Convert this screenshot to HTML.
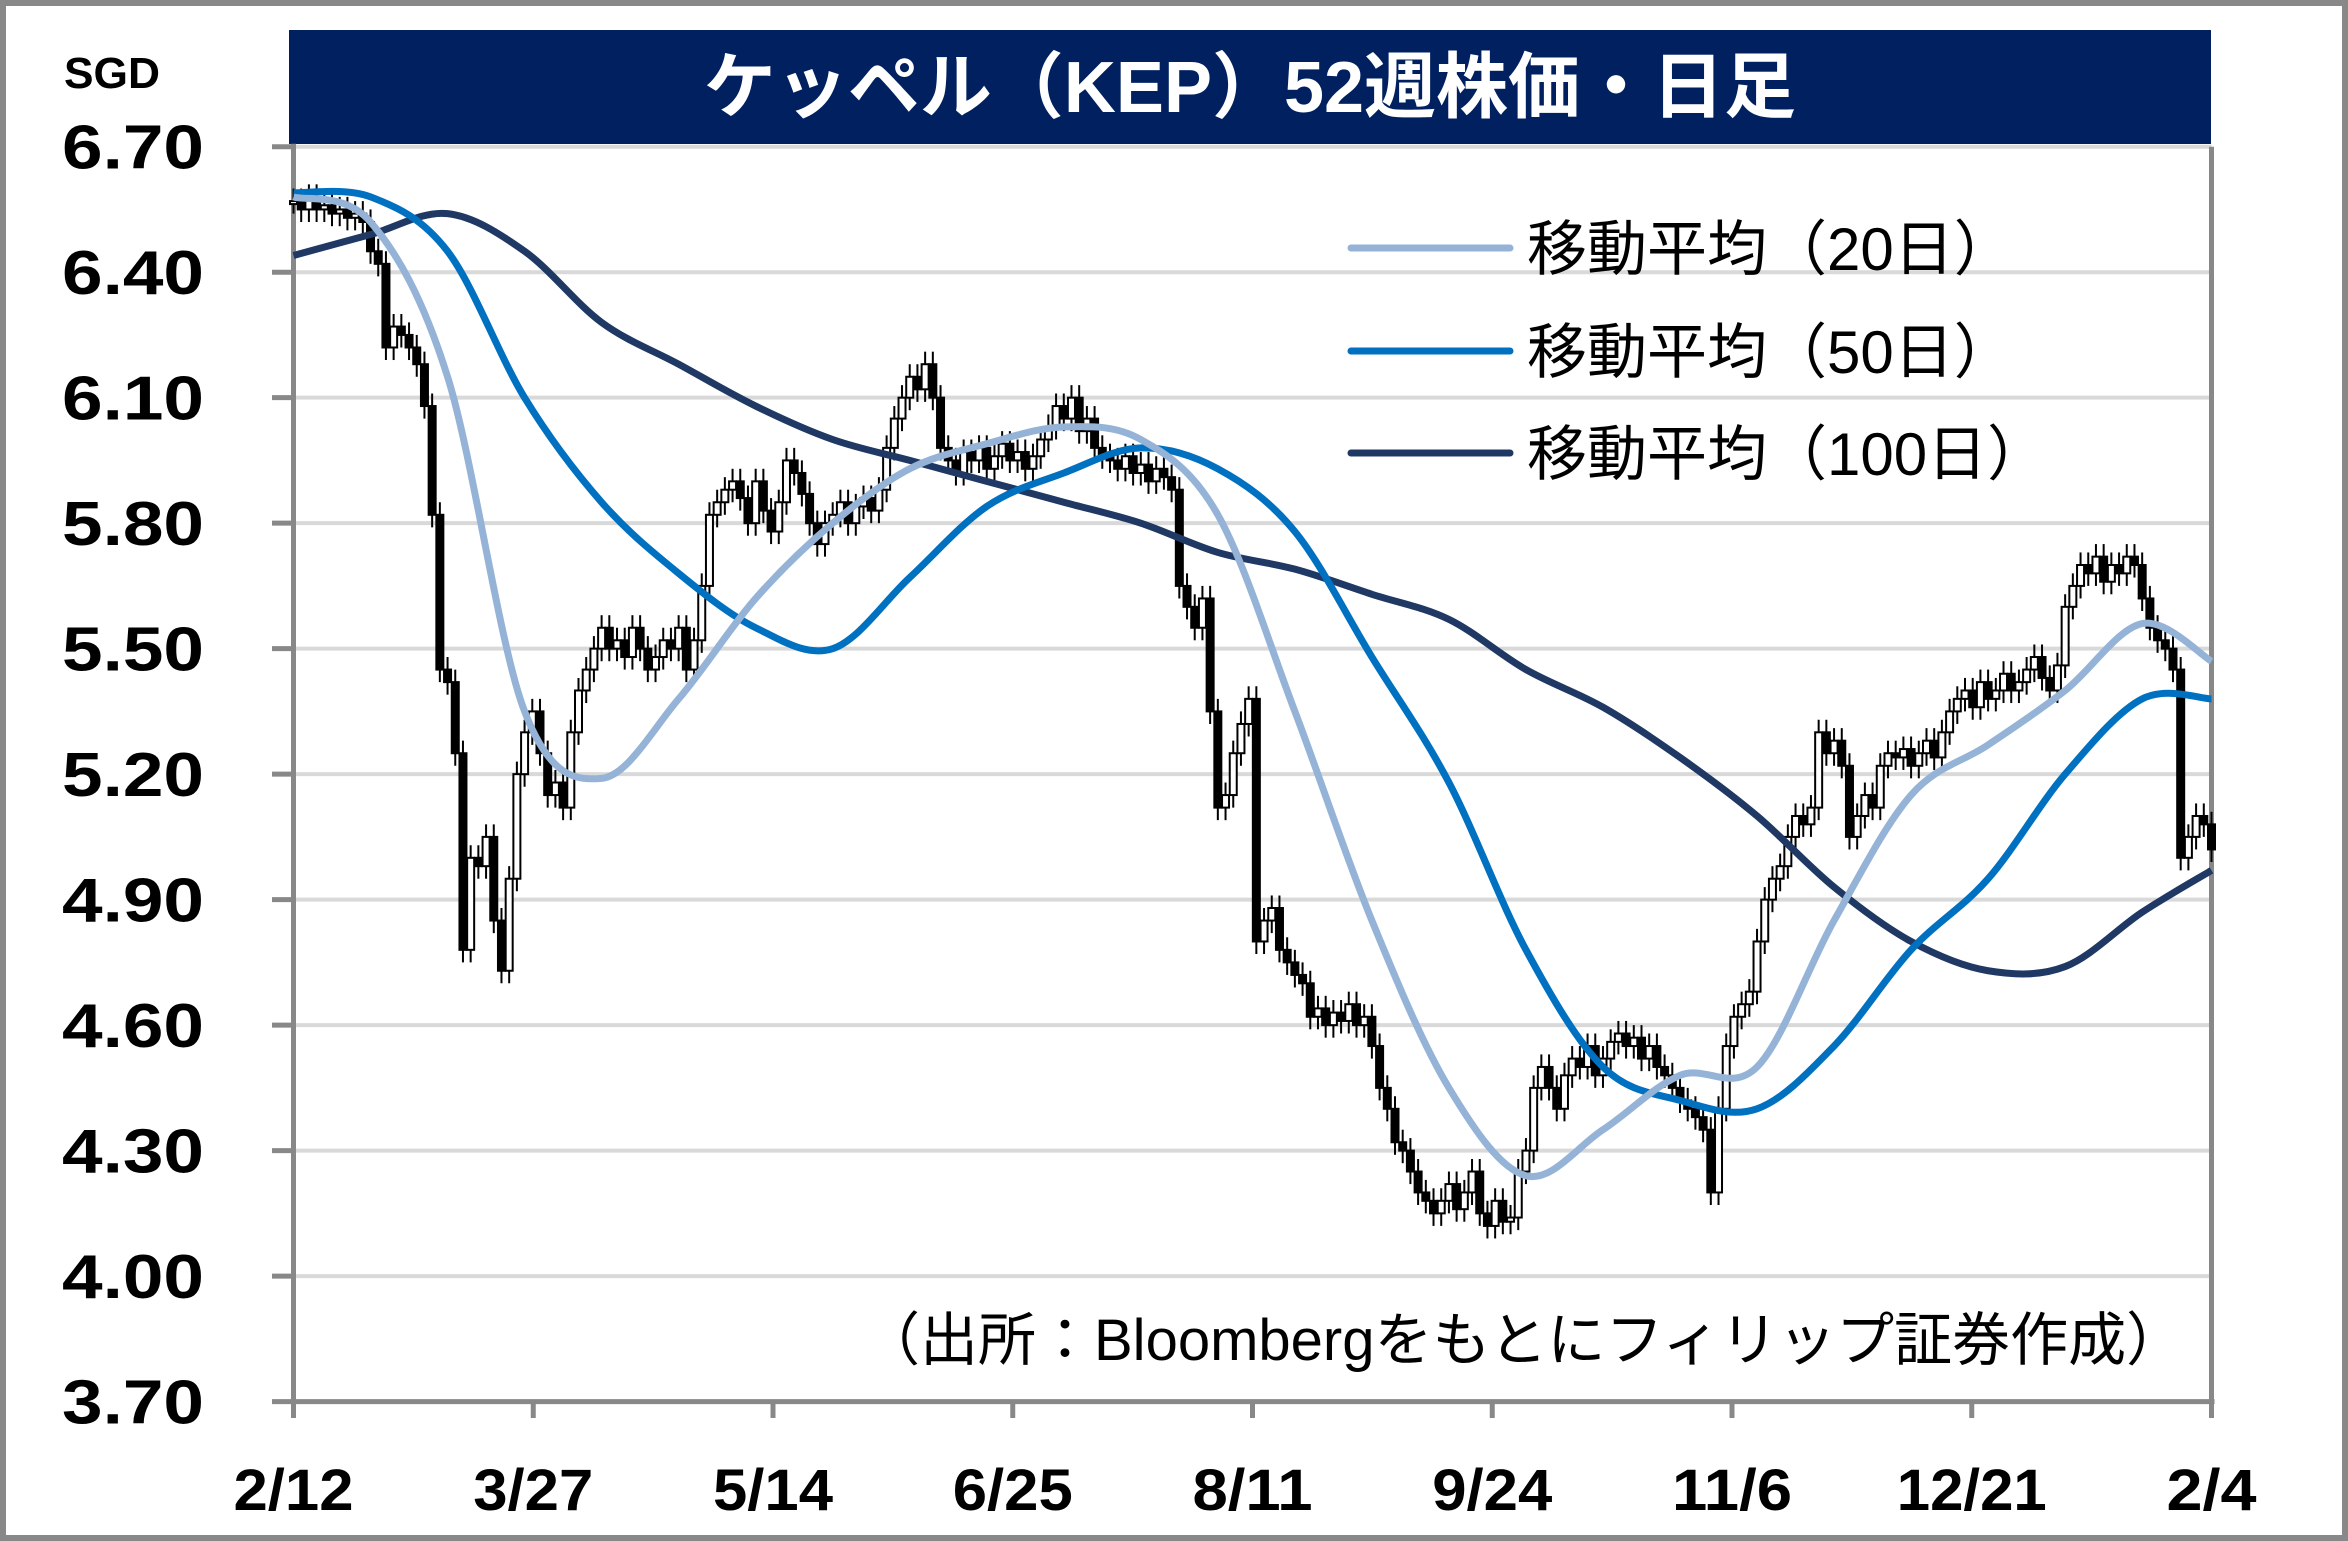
<!DOCTYPE html>
<html><head><meta charset="utf-8"><style>
html,body{margin:0;padding:0;background:#fff;}
svg{display:block;}
text{font-family:"Liberation Sans","Noto Sans CJK JP",sans-serif;}
</style></head><body>
<svg id="chart" width="2348" height="1541" viewBox="0 0 2348 1541" xmlns="http://www.w3.org/2000/svg">
<rect x="3" y="3" width="2342" height="1535" fill="#fff" stroke="#888" stroke-width="6"/>
<rect x="289" y="30" width="1922" height="114" fill="#002060"/>
<text x="1250" y="112" text-anchor="middle" font-size="72" font-weight="bold" fill="#fff">ケッペル（KEP）52週株価・日足</text>
<text x="112" y="88" text-anchor="middle" font-size="44" font-weight="bold" fill="#000" textLength="96" lengthAdjust="spacingAndGlyphs">SGD</text>
<g id="grid"></g>
<g id="yaxis"></g>
<g id="xaxis"></g>
<g id="candles"></g>
<g id="mas"></g>
<g>
<line x1="1351" y1="248" x2="1510" y2="248" stroke="#95b3d7" stroke-width="7" stroke-linecap="round"/>
<text x="1527" y="270" font-size="60" fill="#000">移動平均（20日）</text>
<line x1="1351" y1="351" x2="1510" y2="351" stroke="#0070c0" stroke-width="7" stroke-linecap="round"/>
<text x="1527" y="373" font-size="60" fill="#000">移動平均（50日）</text>
<line x1="1351" y1="453" x2="1510" y2="453" stroke="#1f3864" stroke-width="7" stroke-linecap="round"/>
<text x="1527" y="475" font-size="60" fill="#000">移動平均（100日）</text>
</g>
<text x="862" y="1360" font-size="58" fill="#000">（出所：Bloombergをもとにフィリップ証券作成）</text>
</svg>
<script>
const yTicks=[6.70,6.40,6.10,5.80,5.50,5.20,4.90,4.60,4.30,4.00,3.70];
const xLabels=["2/12","3/27","5/14","6/25","8/11","9/24","11/6","12/21","2/4"];
const closes=[6.57,6.55,6.58,6.55,6.56,6.54,6.55,6.53,6.54,6.52,
6.45,6.42,6.22,6.27,6.25,6.22,6.18,
6.08,5.82,5.45,
5.42,5.25,4.78,5.0,4.98,5.05,4.85,4.73,4.95,5.20,
5.30,5.35,5.25,5.15,5.18,5.12,5.30,5.40,5.45,5.50,
5.55,5.50,5.52,5.48,5.55,5.50,5.45,5.48,5.52,5.50,5.55,5.45,5.52,
5.65,5.82,
5.85,5.88,5.90,5.86,5.80,5.90,5.83,5.78,5.85,5.95,5.92,5.87,5.80,5.75,
5.80,5.82,5.85,5.80,5.84,5.86,5.83,5.88,
5.98,6.05,6.10,6.15,6.12,6.18,6.10,
5.98,5.95,5.92,5.97,5.95,5.98,5.93,5.96,5.99,5.95,5.97,5.93,5.96,
6.00,6.03,6.08,6.05,6.10,6.02,6.05,5.98,
5.96,5.95,5.93,5.96,5.92,5.94,5.90,5.93,5.91,5.88,
5.65,5.60,5.55,5.62,5.35,
5.12,5.15,5.25,5.32,5.38,
4.80,4.85,4.88,4.78,4.75,4.72,4.70,
4.62,4.64,4.60,4.63,4.61,4.65,4.60,4.62,4.55,
4.45,4.40,4.32,4.30,4.25,4.20,4.18,
4.15,4.18,4.22,4.16,4.20,4.25,4.15,4.12,4.18,4.13,4.14,
4.25,4.30,4.45,
4.50,4.45,4.40,4.48,4.52,4.50,4.55,4.48,4.52,4.56,4.58,4.55,4.57,4.52,4.55,
4.50,4.48,4.45,4.42,4.40,4.38,4.35,
4.20,
4.40,4.55,4.62,4.65,4.68,
4.80,4.90,4.95,4.98,
5.05,5.10,5.08,5.12,
5.30,5.25,5.28,5.22,
5.05,5.10,5.15,5.12,
5.22,5.25,5.24,5.26,5.22,5.25,5.28,5.24,5.30,
5.35,5.38,5.40,5.36,5.42,5.38,5.40,5.44,5.40,5.42,5.45,5.48,5.43,5.40,5.46,
5.60,5.65,5.70,5.68,5.72,5.66,5.70,5.68,5.72,5.70,
5.62,5.55,5.52,5.50,5.45,
5.00,5.05,5.10,5.08,5.02];
const maDays=[0,10,20,30,40,50,60,70,80,90,100,110,120,130,140,150,160,170,180,190,200,210,220,230,240,249];
const ma20=[6.58,6.52,6.15,5.35,5.19,5.38,5.62,5.80,5.93,5.99,6.03,6.00,5.82,5.35,4.85,4.45,4.24,4.35,4.48,4.50,4.85,5.15,5.27,5.40,5.56,5.47];
const ma50=[6.59,6.58,6.45,6.10,5.85,5.68,5.55,5.50,5.67,5.84,5.92,5.98,5.93,5.78,5.48,5.18,4.78,4.50,4.42,4.40,4.55,4.78,4.95,5.20,5.38,5.38];
const ma100=[6.44,6.49,6.54,6.45,6.28,6.18,6.08,6.00,5.95,5.90,5.85,5.80,5.73,5.69,5.63,5.57,5.45,5.36,5.24,5.10,4.93,4.80,4.73,4.74,4.87,4.97];

const NS="http://www.w3.org/2000/svg";
const L=293.5,R=2211.5,T=146.7,B=1401.6,YMAX=6.70,YMIN=3.70;
const N=closes.length;
function yS(v){return T+(YMAX-v)/(YMAX-YMIN)*(B-T);}
function xS(i){return L+i*(R-L)/(N-1);}
function mk(tag,attrs,parent){const e=document.createElementNS(NS,tag);for(const k in attrs)e.setAttribute(k,attrs[k]);parent.appendChild(e);return e;}
const grid=document.getElementById('grid'),yax=document.getElementById('yaxis'),xax=document.getElementById('xaxis');
yTicks.forEach(v=>{
  const y=yS(v);
  if(v>YMIN+0.001){const g=mk('line',{x1:L,y1:y,x2:R,y2:y,stroke:'#d9d9d9','stroke-width':4},grid);
  
  }
  const t=mk('line',{x1:272,y1:y,x2:L,y2:y,stroke:'#888','stroke-width':5},yax);
  
  
  const lb=mk('text',{x:62,y:y+22,'font-size':62,'font-weight':'bold',fill:'#000',textLength:142,lengthAdjust:'spacingAndGlyphs'},yax);
  lb.textContent=v.toFixed(2);
  
  
});
const ya=mk('line',{x1:L,y1:T-3,x2:L,y2:B,stroke:'#888','stroke-width':5},yax);


const xa=mk('line',{x1:L-3,y1:B,x2:R+3,y2:B,stroke:'#888','stroke-width':5},xax);


const ra=mk('line',{x1:R,y1:T,x2:R,y2:B,stroke:'#888','stroke-width':5},xax);


xLabels.forEach((s,k)=>{
  const x=L+k*(R-L)/(xLabels.length-1);
  const t=mk('line',{x1:x,y1:B,x2:x,y2:1418,stroke:'#888','stroke-width':5},xax);
  
  
  const lb=mk('text',{x:x,y:1510,'text-anchor':'middle','font-size':58,'font-weight':'bold',fill:'#000',textLength:s.length*30,lengthAdjust:'spacingAndGlyphs'},xax);
  lb.textContent=s;
  
  
});
const cg=document.getElementById('candles');
for(let i=0;i<N;i++){
  const c=closes[i],o=i>0?closes[i-1]:c;
  const x=xS(i),hi=Math.max(o,c),lo=Math.min(o,c);
  const w=mk('line',{x1:x,y1:yS(hi+0.03),x2:x,y2:yS(lo-0.03),stroke:'#000','stroke-width':2},cg);
  
  
  const h=Math.max(3,yS(lo)-yS(hi));
  const b=mk('rect',{x:x-3.5,y:yS(hi),width:7,height:h,fill:c>=o?'#fff':'#000',stroke:'#000','stroke-width':2},cg);
  
  
}
const mg=document.getElementById('mas');
function maPath(vals,color,name){
  const pts=maDays.map((d,k)=>[xS(d),yS(vals[k])]);
  let d='M'+pts[0][0]+','+pts[0][1];
  for(let k=0;k<pts.length-1;k++){
    const p0=pts[Math.max(0,k-1)],p1=pts[k],p2=pts[k+1],p3=pts[Math.min(pts.length-1,k+2)];
    const c1=[p1[0]+(p2[0]-p0[0])/6,p1[1]+(p2[1]-p0[1])/6],c2=[p2[0]-(p3[0]-p1[0])/6,p2[1]-(p3[1]-p1[1])/6];
    d+=' C'+c1+' '+c2+' '+p2;
  }
  const p=mk('path',{d:d,fill:'none',stroke:color,'stroke-width':7,'stroke-linejoin':'round'},mg);
  
  
}
maPath(ma100,'#1f3864','ma100-line');
maPath(ma50,'#0070c0','ma50-line');
maPath(ma20,'#95b3d7','ma20-line');
</script>
</body></html>
